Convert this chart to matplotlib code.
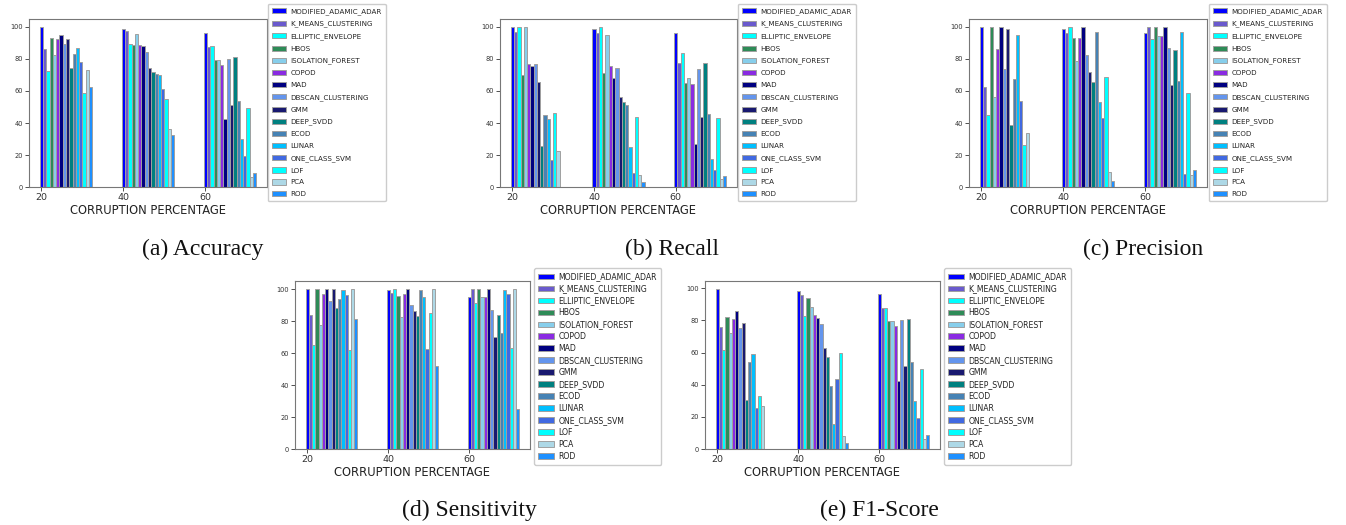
import matplotlib
matplotlib.use("Agg")
import matplotlib.pyplot as plt
import numpy as np

W, H = 1346, 525

methods = ["MODIFIED_ADAMIC_ADAR", "K_MEANS_CLUSTERING", "ELLIPTIC_ENVELOPE", "HBOS",
           "ISOLATION_FOREST", "COPOD", "MAD", "DBSCAN_CLUSTERING", "GMM", "DEEP_SVDD",
           "ECOD", "LUNAR", "ONE_CLASS_SVM", "LOF", "PCA", "ROD"]
colors = ["#0000FF", "#6A5ACD", "#00FFFF", "#2E8B57", "#87CEEB", "#8A2BE2", "#000080",
          "#6495ED", "#191970", "#008080", "#4682B4", "#00BFFF", "#4169E1", "#00FFFF",
          "#ADD8E6", "#1E90FF"]
corruption = [20, 40, 60]

# values per corruption level (rows: 20, 40, 60), columns follow `methods`
accuracy = [
    [100, 86.4, 72.8, 93.3, 82.6, 92.3, 94.8, 89.1, 92.3, 74.3, 83.3, 87, 78.2, 58.6, 73, 62.8],
    [99, 97.3, 89.5, 88.9, 95.4, 88.5, 87.9, 84.3, 74.3, 72, 70.9, 70.1, 61.3, 55, 36.2, 32.8],
    [96.2, 87.4, 87.9, 79.3, 79.3, 76.4, 42.3, 80.1, 51.5, 81, 54, 30, 19.4, 49.6, 6, 8.6],
]
recall = [
    [100, 96.9, 100, 69.7, 100, 76.8, 75.7, 76.8, 65.5, 25.5, 45, 42.5, 16.7, 46.2, 22.4, 0],
    [99, 96.2, 100, 71.1, 94.8, 75.9, 68.4, 74.5, 56, 53.1, 51, 24.7, 9, 43.7, 7.7, 2.9],
    [96.2, 77.2, 83.9, 65, 68, 64.2, 27, 74, 43.5, 77.4, 45.4, 17.4, 10.5, 43.1, 4.8, 7.1],
]
precision = [
    [100, 62.8, 45, 100, 56, 86, 100, 74, 99, 38.5, 67.6, 95.2, 54, 26.2, 33.7, 0],
    [99, 96.2, 100, 93.3, 78.9, 93.3, 100, 82.6, 72, 65.7, 96.9, 53.1, 42.9, 68.6, 9.6, 3.8],
    [96.2, 100, 92.3, 100, 94.4, 94.4, 100, 87, 63.6, 85.6, 66.5, 96.9, 8.2, 58.8, 7.3, 10.5],
]
sensitivity = [
    [100, 83.7, 64.8, 100, 77.4, 96.7, 100, 92.5, 100, 88.3, 93.9, 99.6, 96.2, 61.9, 100, 81.2],
    [99.4, 97.8, 100, 95.8, 82.5, 96.6, 100, 90, 86, 83, 99.5, 95, 62.5, 85, 100, 51.7],
    [95.3, 100, 91.4, 100, 95, 95.3, 100, 86.6, 70, 83.5, 72.3, 99.5, 97, 63.4, 100, 25],
]
f1score = [
    [99.5, 76, 61.5, 82, 72, 81, 86, 75, 78.5, 30.5, 54, 59, 25.5, 33, 27, 0],
    [98.5, 96, 83, 94, 88, 83.5, 81.5, 78, 62.5, 57.5, 39, 15.5, 43.5, 60, 8, 3.5],
    [96.2, 87.4, 87.9, 79.3, 79.3, 76.4, 42.3, 80.1, 51.5, 81, 54, 30, 19.4, 49.6, 6, 8.6],
]

captions = ["(a) Accuracy", "(b) Recall", "(c) Precision", "(d) Sensitivity", "(e) F1-Score"]
datasets = [accuracy, recall, precision, sensitivity, f1score]

# layout in pixels: axes (left, right, top, bottom), legend (left, top), caption (x, y),
# legend font size and label spacing
panels = [
    dict(ax=(29, 267, 19, 187), leg=(268, 4), cap=(203, 249), lf=5.1, ls=0.82),
    dict(ax=(500, 737, 19, 187), leg=(738, 4), cap=(672, 249), lf=5.1, ls=0.82),
    dict(ax=(969, 1207, 19, 187), leg=(1209, 4), cap=(1143, 249), lf=5.1, ls=0.82),
    dict(ax=(295, 530, 281, 449), leg=(534, 268), cap=(469, 510), lf=5.6, ls=0.38),
    dict(ax=(705, 940, 281, 449), leg=(944, 268), cap=(879, 510), lf=5.6, ls=0.38),
]

fig = plt.figure(figsize=(W / 100, H / 100), dpi=100)
width = 0.8

for data, cap, p in zip(datasets, captions, panels):
    l, r, t, b = p["ax"]
    ax = fig.add_axes([l / W, 1 - b / H, (r - l) / W, (b - t) / H])
    arr = np.array(data)
    for i, (m, c) in enumerate(zip(methods, colors)):
        x = np.array(corruption) + i * width
        ax.bar(x, arr[:, i], width=width, color=c, edgecolor="#a0a0a0",
               linewidth=0.7, label=m)
    ax.set_xticks(corruption)
    ax.set_yticks([0, 20, 40, 60, 80, 100])
    ax.tick_params(axis="x", labelsize=6.8, length=3, width=0.6, pad=1.5, colors="#333333")
    ax.tick_params(axis="y", labelsize=4.8, length=3, width=0.6, pad=1.5, colors="#333333")
    for s in ax.spines.values():
        s.set_color("#777777")
        s.set_linewidth(0.8)
    ax.set_xlabel("CORRUPTION PERCENTAGE", fontsize=8.3, labelpad=1, color="#222222")
    lx, ly = p["leg"]
    leg = fig.legend(*ax.get_legend_handles_labels(), loc="upper left",
                     bbox_to_anchor=(lx / W, 1 - ly / H), borderaxespad=0,
                     fontsize=p["lf"], handlelength=2.0, handleheight=0.75,
                     handletextpad=0.6, labelspacing=p["ls"], borderpad=0.55,
                     fancybox=True, framealpha=1, edgecolor="#cccccc")
    for txt in leg.get_texts():
        txt.set_color("#222222")
    cx, cy = p["cap"]
    fig.text(cx / W, 1 - cy / H, cap, ha="center", va="center",
             fontsize=17, family="Liberation Serif", color="#111111")

fig.savefig("out.png", dpi=100)
